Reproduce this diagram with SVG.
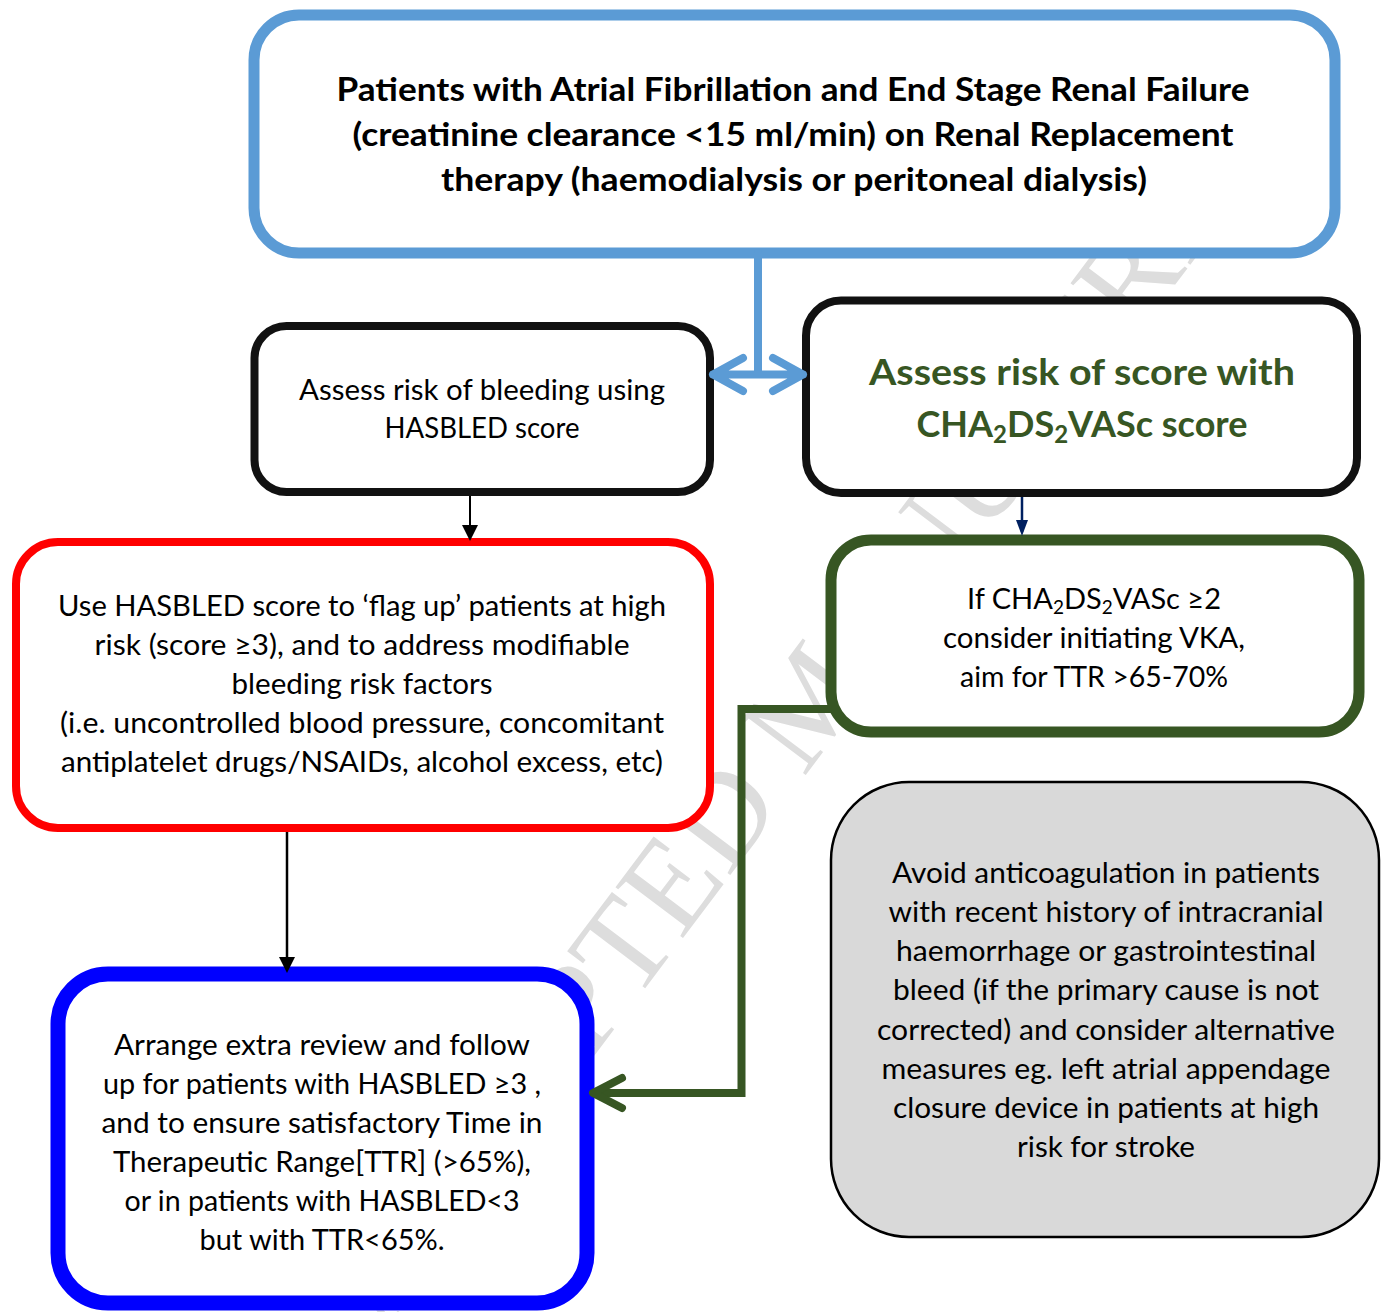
<svg xmlns="http://www.w3.org/2000/svg" width="1381" height="1312" viewBox="0 0 1381 1312">
<style>
.t{font-family:Lato,"Liberation Sans",sans-serif;font-size:29px;fill:#000;text-anchor:middle}
.tb{font-family:Lato,"Liberation Sans",sans-serif;font-size:32px;font-weight:bold;fill:#000;text-anchor:middle}
.tg{font-family:Lato,"Liberation Sans",sans-serif;font-size:36px;font-weight:bold;fill:#375623;text-anchor:middle}
.wm{font-family:"Liberation Serif","Times New Roman",serif;font-size:129px;fill:#DDDDDD}
.box{fill:#fff}
.c{fill:none;stroke-linecap:round;stroke-linejoin:round}
</style>
<defs>
<marker id="ahK" viewBox="0 0 16 16" refX="12" refY="8" markerWidth="16" markerHeight="16" markerUnits="userSpaceOnUse" orient="auto"><path d="M0,0 L16,8 L0,16 z" fill="#000"/></marker>
<marker id="ahN" viewBox="0 0 16 16" refX="12" refY="8" markerWidth="16" markerHeight="12" markerUnits="userSpaceOnUse" orient="auto" preserveAspectRatio="none"><path d="M0,0 L16,8 L0,16 z" fill="#002060"/></marker>
</defs>
<rect width="1381" height="1312" fill="#fff"/>
<g id="watermark">
<text class="wm" transform="translate(383,1336) rotate(-53)">ACCEPTED MANUSCRIPT</text>
</g>
<g id="n-top">
<rect class="box" x="254" y="15" width="1081" height="238" rx="45" stroke="#5B9BD5" stroke-width="11"/>
<text class="tb" x="793" y="101" textLength="913" lengthAdjust="spacingAndGlyphs">Patients with Atrial Fibrillation and End Stage Renal Failure</text>
<text class="tb" x="793" y="146" textLength="881" lengthAdjust="spacingAndGlyphs">(creatinine clearance &lt;15 ml/min) on Renal Replacement</text>
<text class="tb" x="794" y="191" textLength="706" lengthAdjust="spacingAndGlyphs">therapy (haemodialysis or peritoneal dialysis)</text>
</g>
<g id="n-hasbled">
<rect class="box" x="254.5" y="326" width="455.5" height="166" rx="32" stroke="#111" stroke-width="8"/>
<text class="t" x="482" y="400" textLength="366" lengthAdjust="spacingAndGlyphs">Assess risk of bleeding using</text>
<text class="t" x="482" y="438" textLength="195" lengthAdjust="spacingAndGlyphs">HASBLED score</text>
</g>
<g id="n-cha">
<rect class="box" x="806" y="300.5" width="551" height="192.5" rx="35" stroke="#111" stroke-width="8"/>
<text class="tg" x="1082" y="385" textLength="426" lengthAdjust="spacingAndGlyphs">Assess risk of score with</text>
<text class="tg" x="1082" y="437">CHA<tspan font-size="24" dy="6">2</tspan><tspan dy="-6">DS</tspan><tspan font-size="24" dy="6">2</tspan><tspan dy="-6">VASc score</tspan></text>
</g>
<g id="n-flag">
<rect class="box" x="16" y="542" width="694" height="286" rx="42" stroke="#FF0000" stroke-width="8"/>
<text class="t" x="362" y="616" textLength="608" lengthAdjust="spacingAndGlyphs">Use HASBLED score to ‘flag up’ patients at high</text>
<text class="t" x="362" y="655" textLength="535" lengthAdjust="spacingAndGlyphs">risk (score ≥3), and to address modifiable</text>
<text class="t" x="362" y="694" textLength="261" lengthAdjust="spacingAndGlyphs">bleeding risk factors</text>
<text class="t" x="362" y="733" textLength="604" lengthAdjust="spacingAndGlyphs">(i.e. uncontrolled blood pressure, concomitant</text>
<text class="t" x="362" y="772" textLength="602" lengthAdjust="spacingAndGlyphs">antiplatelet drugs/NSAIDs, alcohol excess, etc)</text>
</g>
<g id="n-vka">
<rect class="box" x="831" y="540" width="528" height="192" rx="40" stroke="#375623" stroke-width="11"/>
<text class="t" x="1094" y="609">If CHA<tspan font-size="19" dy="5">2</tspan><tspan dy="-5">DS</tspan><tspan font-size="19" dy="5">2</tspan><tspan dy="-5">VASc ≥2</tspan></text>
<text class="t" x="1094" y="648" textLength="302" lengthAdjust="spacingAndGlyphs">consider initiating VKA,</text>
<text class="t" x="1094" y="687" textLength="268" lengthAdjust="spacingAndGlyphs">aim for TTR &gt;65-70%</text>
</g>
<g id="n-avoid">
<rect x="831" y="782" width="548" height="455" rx="78" fill="#D9D9D9" stroke="#000" stroke-width="2.5"/>
<text class="t" x="1106" y="883" textLength="428" lengthAdjust="spacingAndGlyphs">Avoid anticoagulation in patients</text>
<text class="t" x="1106" y="922" textLength="435" lengthAdjust="spacingAndGlyphs">with recent history of intracranial</text>
<text class="t" x="1106" y="961" textLength="420" lengthAdjust="spacingAndGlyphs">haemorrhage or gastrointestinal</text>
<text class="t" x="1106" y="1000" textLength="426" lengthAdjust="spacingAndGlyphs">bleed (if the primary cause is not</text>
<text class="t" x="1106" y="1040" textLength="458" lengthAdjust="spacingAndGlyphs">corrected) and consider alternative</text>
<text class="t" x="1106" y="1079" textLength="449" lengthAdjust="spacingAndGlyphs">measures eg. left atrial appendage</text>
<text class="t" x="1106" y="1118" textLength="426" lengthAdjust="spacingAndGlyphs">closure device in patients at high</text>
<text class="t" x="1106" y="1157" textLength="178" lengthAdjust="spacingAndGlyphs">risk for stroke</text>
</g>
<g id="n-review">
<rect class="box" x="58" y="974" width="529" height="329" rx="50" stroke="#0000FF" stroke-width="15"/>
<text class="t" x="322" y="1055" textLength="416" lengthAdjust="spacingAndGlyphs">Arrange extra review and follow</text>
<text class="t" x="322" y="1094" textLength="438" lengthAdjust="spacingAndGlyphs">up for patients with HASBLED ≥3 ,</text>
<text class="t" x="322" y="1133" textLength="441" lengthAdjust="spacingAndGlyphs">and to ensure satisfactory Time in</text>
<text class="t" x="322" y="1172" textLength="418" lengthAdjust="spacingAndGlyphs">Therapeutic Range[TTR] (&gt;65%),</text>
<text class="t" x="322" y="1211" textLength="395" lengthAdjust="spacingAndGlyphs">or in patients with HASBLED&lt;3</text>
<text class="t" x="322" y="1250" textLength="245" lengthAdjust="spacingAndGlyphs">but with TTR&lt;65%.</text>
</g>
<g id="connectors">
<path class="c" d="M758,253 V374.5 M713,374.5 H803 M743,358 L713,374.5 L743,391 M773,358 L803,374.5 L773,391" stroke="#5B9BD5" stroke-width="8"/>
<path d="M470,496 V537" stroke="#000" stroke-width="2" marker-end="url(#ahK)"/>
<path d="M287,832 V969" stroke="#000" stroke-width="2.5" marker-end="url(#ahK)"/>
<path d="M1022,497 V532" stroke="#002060" stroke-width="2.5" marker-end="url(#ahN)"/>
<path d="M833,709 H741.5 V1093 H594" fill="none" stroke="#375623" stroke-width="8" stroke-linejoin="miter"/>
<path class="c" d="M622,1078 L593,1093 L622,1108" stroke="#375623" stroke-width="8"/>
</g>
</svg>
